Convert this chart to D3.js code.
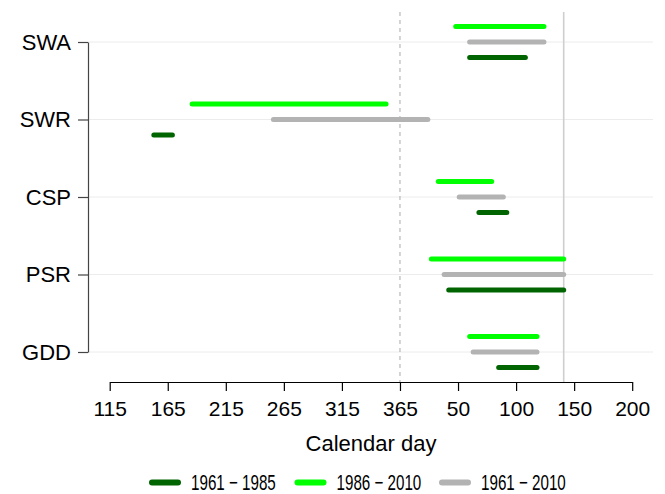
<!DOCTYPE html>
<html>
<head>
<meta charset="utf-8">
<script src="https://cdn.jsdelivr.net/npm/d3@7"></script>
<style>
  body { margin: 0; background: #fff; }
  svg { font-family: "Liberation Sans", Arial, sans-serif; }
</style>
</head>
<body>
<div id="chart"></div>
<script>

// days counted from 1 Jan of the first year; values above 365 fall in the following year
let categories = ["SWA", "SWR", "CSP", "PSR", "GDD"]
let early = [[425, 473], [153, 169], [433, 457], [407, 506], [450, 483]]   // 1961-1985
let late  = [[413, 489], [186, 353], [398, 444], [392, 506], [425, 483]]   // 1986-2010
let whole = [[425, 489], [256, 389], [416, 454], [403, 506], [428, 483]]   // 1961-2010
let tickValues = [115, 165, 215, 265, 315, 365, 415, 465, 515, 565]
let tickLabels = ["115", "165", "215", "265", "315", "365", "50", "100", "150", "200"]
let yearEnd = 365
let refDay = 506
let periods = ["1961 \u2212 1985", "1986 \u2212 2010", "1961 \u2212 2010"]

let width = 665
let height = 494

let svg = d3.select("#chart").append("svg")
  .attr("width", width)
  .attr("height", height)

let x = d3.scaleLinear().domain([115, 565]).range([109.7, 632.2])
let y = d3.scalePoint().domain(categories).range([42, 352])
let off = y.step() * 0.2

// grid
svg.append("g")
  .selectAll("line")
  .data(categories)
  .join("line")
  .attr("x1", 88).attr("x2", 653)
  .attr("y1", d => y(d)).attr("y2", d => y(d))
  .attr("stroke", "#ececec")
  .attr("stroke-width", 1)

// year boundary and reference day
svg.append("line")
  .attr("x1", x(yearEnd)).attr("x2", x(yearEnd))
  .attr("y1", 12).attr("y2", 382)
  .attr("stroke", "#aaa")
  .attr("stroke-dasharray", "4,4")

svg.append("line")
  .attr("x1", x(refDay)).attr("x2", x(refDay))
  .attr("y1", 12).attr("y2", 382)
  .attr("stroke", "#cfcfcf")
  .attr("stroke-width", 1.6)

let series = [
  {data: late, color: "#00ff00", dy: -off},
  {data: whole, color: "#b3b3b3", dy: 0},
  {data: early, color: "#006400", dy: off}
]

series.forEach(s => {
  svg.append("g")
    .selectAll("line")
    .data(s.data)
    .join("line")
    .attr("x1", d => x(d[0]))
    .attr("x2", d => x(d[1]))
    .attr("y1", (d, i) => y(categories[i]) + s.dy)
    .attr("y2", (d, i) => y(categories[i]) + s.dy)
    .attr("stroke", s.color)
    .attr("stroke-width", 5)
    .attr("stroke-linecap", "round")
})

// axes
let xAxis = svg.append("g")
  .attr("transform", "translate(0,382)")
  .call(d3.axisBottom(x)
    .tickValues(tickValues)
    .tickFormat((d, i) => tickLabels[i])
    .tickSize(9)
    .tickSizeOuter(0)
    .tickPadding(10))
xAxis.selectAll("path, line").attr("stroke", "#000").attr("stroke-width", 1.2)
xAxis.selectAll("text").attr("font-size", 21).attr("fill", "#000")
  .attr("font-family", "'Liberation Sans', Arial, sans-serif")

let yAxis = svg.append("g")
  .attr("transform", "translate(88,0)")
  .call(d3.axisLeft(y).tickSize(10).tickSizeOuter(0).tickPadding(7))
yAxis.selectAll("path, line").attr("stroke", "#444").attr("stroke-width", 1.2)
yAxis.selectAll("text").attr("font-size", 22).attr("fill", "#000")
  .attr("font-family", "'Liberation Sans', Arial, sans-serif")

svg.append("text")
  .attr("x", 371).attr("y", 451)
  .attr("text-anchor", "middle")
  .attr("font-size", 22)
  .text("Calendar day")

// legend
let legendX = [149, 294.5, 439]
let legendColors = ["#006400", "#00ff00", "#b3b3b3"]
let legend = svg.append("g")
legend.selectAll("line")
  .data(periods)
  .join("line")
  .attr("x1", (d, i) => legendX[i] + 3)
  .attr("x2", (d, i) => legendX[i] + 29)
  .attr("y1", 482.5).attr("y2", 482.5)
  .attr("stroke", (d, i) => legendColors[i])
  .attr("stroke-width", 6)
  .attr("stroke-linecap", "round")

legend.selectAll("text")
  .data(periods)
  .join("text")
  .attr("transform", (d, i) => `translate(${legendX[i] + 42},490) scale(0.69,1)`)
  .attr("font-size", 22)
  .text(d => d)

</script>
</body>
</html>
